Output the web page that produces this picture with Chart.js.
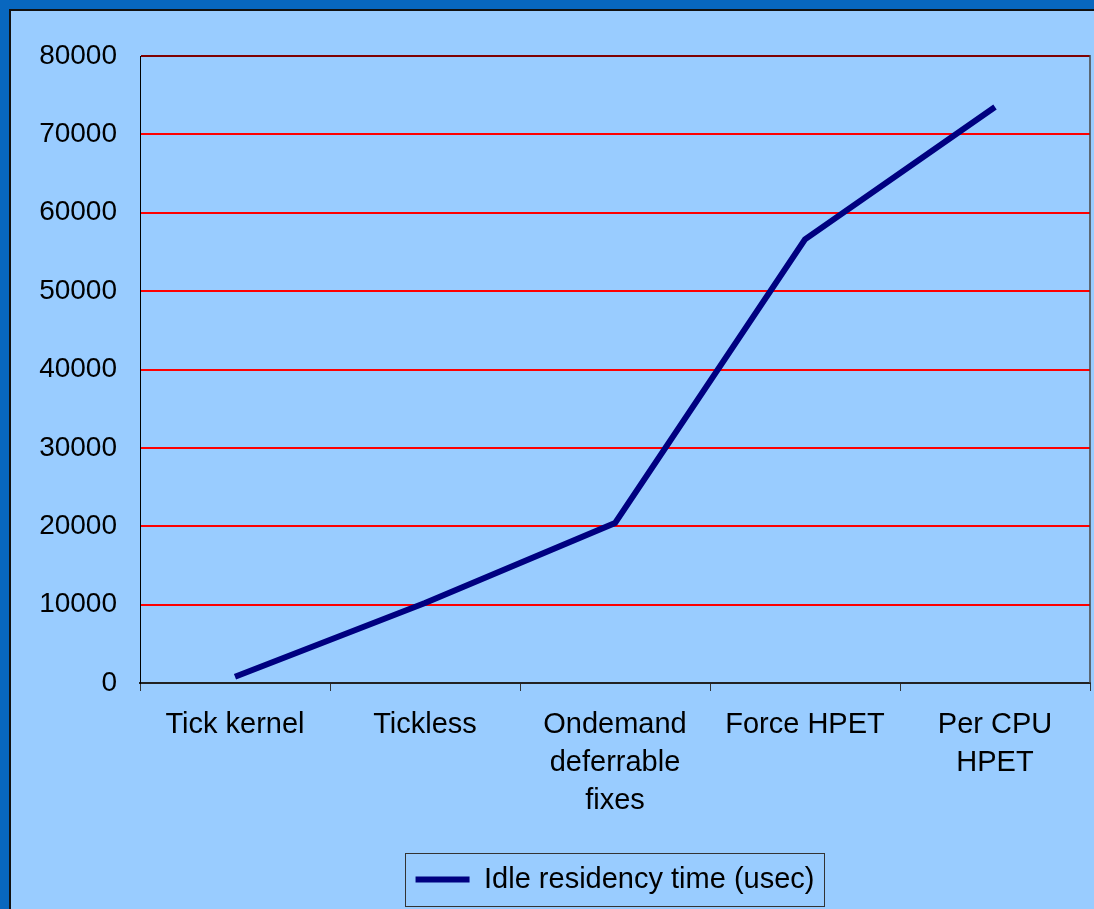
<!DOCTYPE html>
<html>
<head>
<meta charset="utf-8">
<title>Idle residency time</title>
<script src="https://cdn.jsdelivr.net/npm/chart.js@4/dist/chart.umd.min.js"></script>
<style>
  html, body { margin: 0; padding: 0; }
  body { width: 1094px; height: 909px; background: #99ccff; position: relative; overflow: hidden; }
  .frame {
    position: absolute; left: 0; top: 0; width: 1094px; height: 909px;
    box-sizing: border-box;
    border-left: 9px solid #0867bf; border-top: 9px solid #0867bf;
  }
  .frame::after {
    content: ""; position: absolute; left: 0; top: 0; right: 0; bottom: 0;
    border-left: 2px solid #111; border-top: 2px solid #111;
  }
  #chart { position: absolute; left: 0; top: 0; }
</style>
</head>
<body>
<div class="frame"></div>
<canvas id="chart" width="1094" height="909"></canvas>
<script>
// Kernel configurations along the x axis
const categories = [
  "Tick kernel",
  "Tickless",
  ["Ondemand", "deferrable", "fixes"],
  "Force HPET",
  ["Per CPU", "HPET"]
];
// Average idle residency per configuration, in microseconds
const idleResidency = [800, 10200, 20400, 56600, 73500];
const seriesName = "Idle residency time (usec)";
const yTicks = [0, 10000, 20000, 30000, 40000, 50000, 60000, 70000, 80000];

const FONT = "'Liberation Sans', Arial, Helvetica, sans-serif";

// Right edge of the plot area and a box round the legend entry
const framePlugin = {
  id: 'frame',
  afterDraw(chart) {
    const ctx = chart.ctx;
    const a = chart.chartArea;
    ctx.save();
    ctx.strokeStyle = '#444';
    ctx.lineWidth = 1.5;
    ctx.beginPath();
    ctx.moveTo(a.right, a.top - 1);
    ctx.lineTo(a.right, a.bottom);
    ctx.stroke();
    const hb = chart.legend && chart.legend.legendHitBoxes && chart.legend.legendHitBoxes[0];
    if (hb) {
      const x0 = Math.round(hb.left - 11) + 0.5;
      const x1 = Math.round(hb.left + hb.width + 10) + 0.5;
      const y0 = Math.round(hb.top + hb.height / 2 - 27) + 0.5;
      const y1 = Math.round(hb.top + hb.height / 2 + 26) + 0.5;
      ctx.strokeStyle = '#333';
      ctx.lineWidth = 1;
      ctx.strokeRect(x0, y0, x1 - x0, y1 - y0);
    }
    ctx.restore();
  }
};

new Chart(document.getElementById('chart'), {
  type: 'line',
  data: {
    labels: categories,
    datasets: [{
      label: seriesName,
      data: idleResidency,
      borderColor: '#000080',
      backgroundColor: '#000080',
      borderWidth: 6,
      pointRadius: 0,
      pointHoverRadius: 0,
      tension: 0,
      fill: false,
      borderJoinStyle: 'miter',
      borderCapStyle: 'butt'
    }]
  },
  options: {
    responsive: false,
    animation: false,
    events: [],
    layout: { padding: { left: 0, right: 4, top: 56, bottom: 5 } },
    plugins: {
      tooltip: { enabled: false },
      legend: {
        position: 'bottom',
        fullSize: false,
        labels: {
          usePointStyle: true,
          pointStyle: 'line',
          pointStyleWidth: 54,
          padding: 12,
          color: '#000',
          font: { family: FONT, size: 29 }
        }
      }
    },
    scales: {
      x: {
        offset: true,
        grid: {
          offset: true,
          drawOnChartArea: false,
          drawTicks: true,
          tickLength: 8,
          color: '#333',
          lineWidth: 1
        },
        border: { display: true, color: '#222', width: 2 },
        ticks: {
          color: '#000',
          padding: 15,
          maxRotation: 0,
          autoSkip: false,
          font: { family: FONT, size: 29, lineHeight: 1.31 }
        },
        afterFit(scale) { scale.height = 170; }
      },
      y: {
        min: 0,
        max: 80000,
        afterBuildTicks(scale) { scale.ticks = yTicks.map(v => ({ value: v })); },
        grid: {
          drawTicks: false,
          lineWidth: 2,
          color(ctx) {
            const v = ctx.tick ? ctx.tick.value : null;
            if (v === 0) return 'rgba(0,0,0,0)';
            if (v === 80000) return '#800000';
            return '#ff0000';
          }
        },
        border: { display: true, color: '#000', width: 1 },
        ticks: {
          color: '#000',
          padding: 23,
          font: { family: FONT, size: 28 },
          callback(v) { return String(v); }
        },
        afterFit(scale) { scale.width = 140; }
      }
    }
  },
  plugins: [framePlugin]
});
</script>
</body>
</html>
